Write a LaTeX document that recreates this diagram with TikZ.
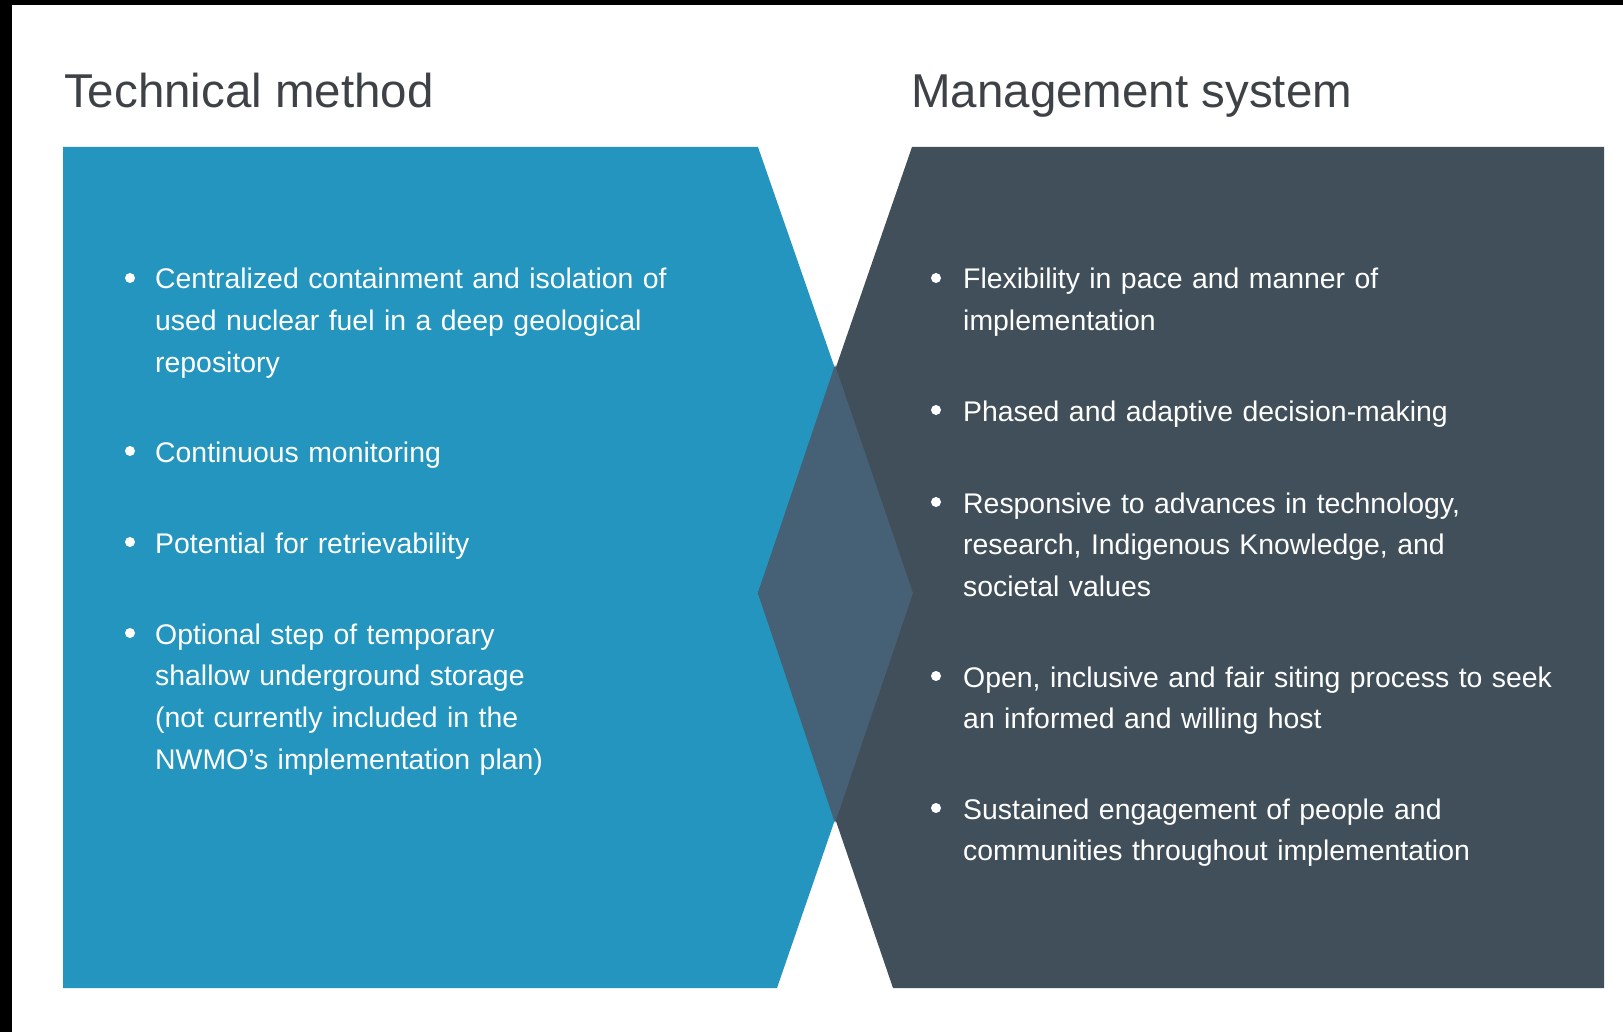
\documentclass[tikz,border=0pt]{standalone}
\usepackage{fontspec}
\setmainfont{Liberation Sans}
\definecolor{tblue}{RGB}{35,149,190}
\definecolor{tdark}{RGB}{64,79,89}
\definecolor{tover}{RGB}{70,97,117}
\definecolor{ttitle}{RGB}{62,66,71}
\tikzset{
  x=1pt, y=-1pt,
  title/.style={anchor=base west, inner sep=0pt, text=ttitle, font=\fontsize{47.5}{56}\selectfont},
  item/.style={anchor=base west, inner sep=0pt, text=white, text width=700pt, align=left,
    font=\fontsize{28.4}{41.8}\selectfont},
  dot/.style={circle, fill=white, inner sep=0pt, minimum size=10pt},
}
\begin{document}
\begin{tikzpicture}
\useasboundingbox (0,0) rectangle (1623,1032);
\fill[white] (0,0) rectangle (1623,1032);
\fill[black] (0,0) rectangle (1623,5);
\fill[black] (0,0) rectangle (12,1032);
% shapes
\fill[tblue] (63,147) -- (758,147) -- (913,593) -- (777,988) -- (63,988) -- cycle;
\fill[tdark] (912,147) -- (1604,147) -- (1604,988) -- (893,988) -- (758,593) -- cycle;
\fill[tover] (835,365) -- (913,593) -- (835,823) -- (758,593) -- cycle;
% titles
\node[title] (tl) at (64,108) {Technical method};
\node[title] (tr) at (911,108) {Management system};
% left column
\node[dot] (bl1) at (130,278) {};
\node[item] (l1) at (155,289) {Centralized containment and isolation of\\used nuclear fuel in a deep geological\\repository};
\node[dot] (bl2) at (130,451) {};
\node[item] (l2) at (155,462) {Continuous monitoring};
\node[dot] (bl3) at (130,542) {};
\node[item] (l3) at (155,553) {Potential for retrievability};
\node[dot] (bl4) at (130,633) {};
\node[item] (l4) at (155,644) {Optional step of temporary\\shallow underground storage\\(not currently included in the\\NWMO’s implementation plan)};
% right column
\node[dot] (br1) at (936,278) {};
\node[item] (r1) at (963,289) {Flexibility in pace and manner of\\implementation};
\node[dot] (br2) at (936,410) {};
\node[item] (r2) at (963,421) {Phased and adaptive decision-making};
\node[dot] (br3) at (936,502) {};
\node[item] (r3) at (963,513) {Responsive to advances in technology,\\research, Indigenous Knowledge, and\\societal values};
\node[dot] (br4) at (936,676) {};
\node[item] (r4) at (963,687) {Open, inclusive and fair siting process to seek\\an informed and willing host};
\node[dot] (br5) at (936,808) {};
\node[item] (r5) at (963,819) {Sustained engagement of people and\\communities throughout implementation};
\end{tikzpicture}
\end{document}
